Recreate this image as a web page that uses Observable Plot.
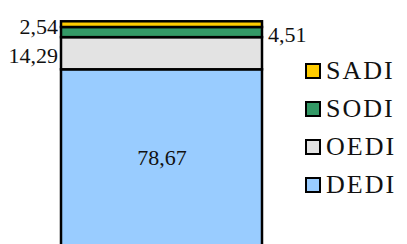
<!DOCTYPE html>
<html>
<head>
<meta charset="utf-8">
<script src="https://cdn.jsdelivr.net/npm/d3@7"></script>
<script src="https://cdn.jsdelivr.net/npm/@observablehq/plot@0.6"></script>
<style>
  html, body { margin: 0; padding: 0; background: #fff; overflow: hidden; }
  #wrap { position: relative; width: 407px; height: 244px; overflow: hidden; }
  #legend { position: absolute; left: 305px; top: 0; font-family: "Liberation Serif", serif; font-size: 26px; color: #111; }
  .row { position: absolute; left: 0; display: flex; align-items: center; height: 26px; white-space: nowrap; }
  .sw { width: 16px; height: 16px; box-sizing: border-box; border: 2px solid #000; margin-right: 5px; flex: none; }
  .lab { letter-spacing: 2px; line-height: 26px; }
</style>
</head>
<body>
<div id="wrap"></div>
<script>
// Data (bottom to top of the stacked bar)
const categories = ["DEDI", "OEDI", "SODI", "SADI"];
const values = [78.67, 14.29, 4.51, 2.54];
const colors = ["#99CCFF", "#E3E3E3", "#339966", "#FFCC00"];
const labelSide = ["center", "left", "right", "left"];
const group = "Total";

const data = categories.map((c, i) => ({group, name: c, value: values[i], side: labelSide[i]}));
const fmt = v => v.toFixed(2).replace(".", ",");

const sideText = s => d => d.side === s ? fmt(d.value) : "";
const font = {fontFamily: "'Liberation Serif', serif", fontSize: 22, fill: "#111"};

const chart = Plot.plot({
  width: 407,
  height: 244,
  margin: 0,
  x: {type: "band", domain: [group], range: [60.5, 261.5], padding: 0, axis: null},
  y: {domain: [0, 100], range: [246.3, 21.3], axis: null},
  color: {domain: categories, range: colors},
  marks: [
    Plot.barY(data, {x: "group", y: "value", fill: "name", stroke: "#000", strokeWidth: 2.5, inset: 0}),
    Plot.text(data, Plot.stackY({x: "group", y: "value", text: sideText("left"), textAnchor: "end", dx: -104, dy: 2, ...font})),
    Plot.text(data, Plot.stackY({x: "group", y: "value", text: sideText("right"), textAnchor: "start", dx: 106, dy: 2, ...font})),
    Plot.text(data, Plot.stackY({x: "group", y: "value", text: sideText("center"), textAnchor: "middle", ...font}))
  ]
});
chart.style.position = "absolute";
chart.style.left = "0";
chart.style.top = "0";
document.getElementById("wrap").appendChild(chart);

// Legend (top: SADI ... bottom: DEDI)
const legend = document.createElement("div");
legend.id = "legend";
const rowCenters = [71, 109, 147, 185];
categories.slice().reverse().forEach((c, i) => {
  const idx = categories.indexOf(c);
  const row = document.createElement("div");
  row.className = "row";
  row.style.top = (rowCenters[i] - 13) + "px";
  const sw = document.createElement("div");
  sw.className = "sw";
  sw.style.background = colors[idx];
  const lab = document.createElement("span");
  lab.className = "lab";
  lab.textContent = c;
  row.appendChild(sw);
  row.appendChild(lab);
  legend.appendChild(row);
});
document.getElementById("wrap").appendChild(legend);
</script>
</body>
</html>
